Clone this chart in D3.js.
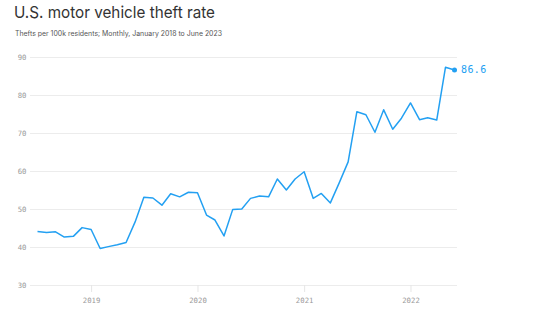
<!DOCTYPE html>
<html>
<head>
<meta charset="utf-8">
<script src="https://cdn.jsdelivr.net/npm/d3@7"></script>
<style>
  html, body { margin: 0; padding: 0; background: #fff; }
  svg { display: block; }
</style>
</head>
<body>
<svg id="chart" width="540" height="326"></svg>
<script>
const title = "U.S. motor vehicle theft rate";
const subtitle = "Thefts per 100k residents; Monthly, January 2018 to June 2023";

// Monthly, July 2018 .. June 2022 (positions as plotted)
const months = d3.utcMonths(new Date(Date.UTC(2018, 6, 1)), new Date(Date.UTC(2022, 6, 1)));
const theftRate = [
  44.1, 43.8, 44.0, 42.6, 42.8, 45.1, 44.6, 39.6, 40.1, 40.6, 41.2, 46.6,
  53.1, 52.9, 51.0, 54.0, 53.2, 54.4, 54.3, 48.4, 47.1, 42.9, 49.9, 50.0,
  52.8, 53.4, 53.2, 57.9, 55.0, 57.9, 59.8, 52.8, 54.1, 51.6, 56.8, 62.4,
  75.6, 74.8, 70.2, 76.1, 71.0, 73.9, 77.9, 73.5, 74.0, 73.4, 87.3, 86.6
];
const yTicks = [30, 40, 50, 60, 70, 80, 90];
const xTickYears = [2019, 2020, 2021, 2022];
const lastLabel = "86.6";

const svg = d3.select("#chart");

svg.append("text")
  .attr("x", 14).attr("y", 17.5)
  .attr("font-family", "Inter, 'Noto Sans', sans-serif")
  .attr("font-size", 16.5)
  .attr("fill", "#333")
  .attr("textLength", 201)
  .attr("lengthAdjust", "spacingAndGlyphs")
  .text(title);

svg.append("text")
  .attr("x", 15).attr("y", 35.5)
  .attr("font-family", "Inter, 'Noto Sans', sans-serif")
  .attr("font-size", 7)
  .attr("fill", "#555")
  .attr("textLength", 207)
  .attr("lengthAdjust", "spacingAndGlyphs")
  .text(subtitle);

const x = d3.scaleUtc()
  .domain([months[0], months[months.length - 1]])
  .range([37.5, 454.5]);
const y = d3.scaleLinear().domain([30, 90]).range([285, 57]);

const gridLeft = 30, gridRight = 457;

// horizontal gridlines + y labels
const yAxis = d3.axisLeft(y).tickValues(yTicks).tickSize(gridLeft - gridRight).tickPadding(4);
const gy = svg.append("g").attr("transform", `translate(${gridLeft},0)`).call(yAxis);
gy.select(".domain").remove();
gy.selectAll(".tick line")
  .attr("x1", 0).attr("x2", gridRight - gridLeft)
  .attr("stroke", "#ececec").attr("stroke-width", 1);
gy.selectAll(".tick text")
  .attr("x", -3.5)
  .attr("font-family", "'DejaVu Sans Mono', monospace")
  .attr("font-size", 7.3)
  .attr("fill", "#9a9a9a");

// x axis
const xAxis = d3.axisBottom(x)
  .tickValues(xTickYears.map(yr => new Date(Date.UTC(yr, 0, 1))))
  .tickFormat(d3.utcFormat("%Y"))
  .tickSize(7).tickPadding(6);
const gx = svg.append("g").attr("transform", `translate(0,${y(30)})`).call(xAxis);
gx.select(".domain").remove();
gx.selectAll(".tick line").attr("stroke", "#e6e6e6");
gx.selectAll(".tick text")
  .attr("font-family", "'DejaVu Sans Mono', monospace")
  .attr("font-size", 7.3)
  .attr("fill", "#9a9a9a");

const blue = "#23a0f2";
const line = d3.line().x((d, i) => x(months[i])).y(d => y(d));
svg.append("path")
  .datum(theftRate)
  .attr("d", line)
  .attr("fill", "none")
  .attr("stroke", blue)
  .attr("stroke-width", 1.5)
  .attr("stroke-linejoin", "round");

const li = theftRate.length - 1;
svg.append("circle")
  .attr("cx", x(months[li])).attr("cy", y(theftRate[li]))
  .attr("r", 2.5).attr("fill", blue);

svg.append("text")
  .attr("x", x(months[li]) + 6.5).attr("y", y(theftRate[li]))
  .attr("dy", "0.35em")
  .attr("font-family", "'DejaVu Sans Mono', monospace")
  .attr("font-size", 10)
  .attr("letter-spacing", 0.4)
  .attr("fill", blue)
  .text(lastLabel);
</script>
</body>
</html>
